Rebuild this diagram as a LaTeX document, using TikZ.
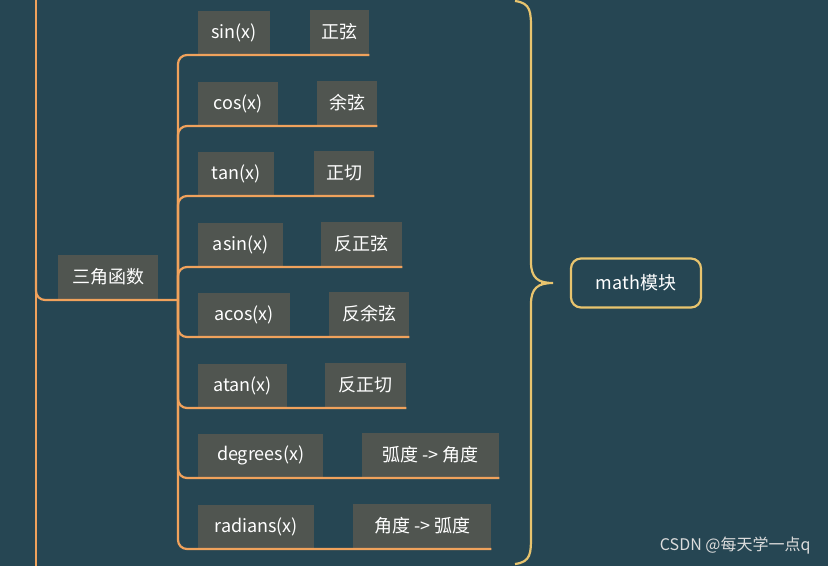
\documentclass[tikz,border=0pt]{standalone}
\usepackage{fontspec}
\setmainfont{Noto Sans CJK SC}
\usetikzlibrary{calc,positioning}
\definecolor{bgteal}{RGB}{38,70,83}
\definecolor{branchor}{RGB}{240,162,92}
\definecolor{boxgray}{RGB}{80,85,80}
\definecolor{braceyel}{RGB}{232,196,110}
\definecolor{marktxt}{RGB}{220,220,220}

\tikzset{
  fbox/.style={rectangle, fill=boxgray, text=white, anchor=south west, minimum height=44pt, inner sep=0pt, font=\fontsize{18}{20}\selectfont},
  branch/.style={draw=branchor, line width=2.2pt, rounded corners=9pt},
}

\begin{document}
\begin{tikzpicture}[x=1pt,y=-1pt]

    % background
    \fill[bgteal] (0,0) rectangle (828,566);
    \useasboundingbox (0,0) rectangle (828,566);

    % main branch
    \node[fbox, minimum width=100pt] (trig) at (58,299) {三角函数};
    \coordinate (hub) at (178,300);
    \draw[branch] (36,0) -- (36,566);
    \draw[branch] (36,270) |- (hub);

    % functions
    \node[fbox, minimum width=72pt]  (f1) at (198,55)  {sin(x)};
    \node[fbox, minimum width=59pt]  (c1) at (310,54)  {正弦};
    \node[fbox, minimum width=80pt]  (f2) at (198,126) {cos(x)};
    \node[fbox, minimum width=60pt]  (c2) at (317,125) {余弦};
    \node[fbox, minimum width=76pt]  (f3) at (198,196) {tan(x)};
    \node[fbox, minimum width=60pt]  (c3) at (314,195) {正切};
    \node[fbox, minimum width=85pt]  (f4) at (198,267) {asin(x)};
    \node[fbox, minimum width=81pt]  (c4) at (321,266) {反正弦};
    \node[fbox, minimum width=92pt]  (f5) at (198,337) {acos(x)};
    \node[fbox, minimum width=80pt]  (c5) at (329,336) {反余弦};
    \node[fbox, minimum width=89pt]  (f6) at (198,408) {atan(x)};
    \node[fbox, minimum width=81pt]  (c6) at (325,407) {反正切};
    \node[fbox, minimum width=125pt] (f7) at (198,478) {degrees(x)};
    \node[fbox, minimum width=137pt] (c7) at (362,477) {弧度 -> 角度};
    \node[fbox, minimum width=116pt] (f8) at (198,549) {radians(x)};
    \node[fbox, minimum width=138pt] (c8) at (353,548) {角度 -> 弧度};

    % branches
    \draw[branch] (hub) |- ($(c1.south east)+(0,1)$);
    \draw[branch] (hub) |- ($(c2.south east)+(0,1)$);
    \draw[branch] (hub) |- ($(c3.south east)+(0,1)$);
    \draw[branch] (hub) |- ($(c4.south east)+(0,1)$);
    \draw[branch] (hub) |- ($(c5.south east)+(0,1)$);
    \draw[branch] (hub) |- ($(c6.south east)+(0,1)$);
    \draw[branch] (hub) |- ($(c7.south east)+(0,1)$);
    \draw[branch] (hub) |- ($(c8.south east)+(0,1)$);

    % brace
    \coordinate (tip) at (553,283);
    \draw[braceyel, line width=2.2pt]
      (515,1) .. controls (531,3) and (531,12) .. (531,30) -- (531,262)
      .. controls (531,278) and (538,283) .. (tip)
      (515,564) .. controls (531,562) and (531,553) .. (531,536) -- (531,304)
      .. controls (531,288) and (538,283) .. (tip);
    \draw[braceyel, line width=2.2pt] (tip) -- (541,283);

    % root
    \node[draw=braceyel, line width=2.2pt, rounded corners=10pt, text=white,
      minimum width=130pt, minimum height=49pt, font=\fontsize{18}{20}\selectfont]
      (math) at (636,283) {math模块};

    \node[text=marktxt, anchor=east, font=\fontsize{16}{18}\selectfont] (mark) at (814,546) {CSDN @每天学一点q};

\end{tikzpicture}
\end{document}
